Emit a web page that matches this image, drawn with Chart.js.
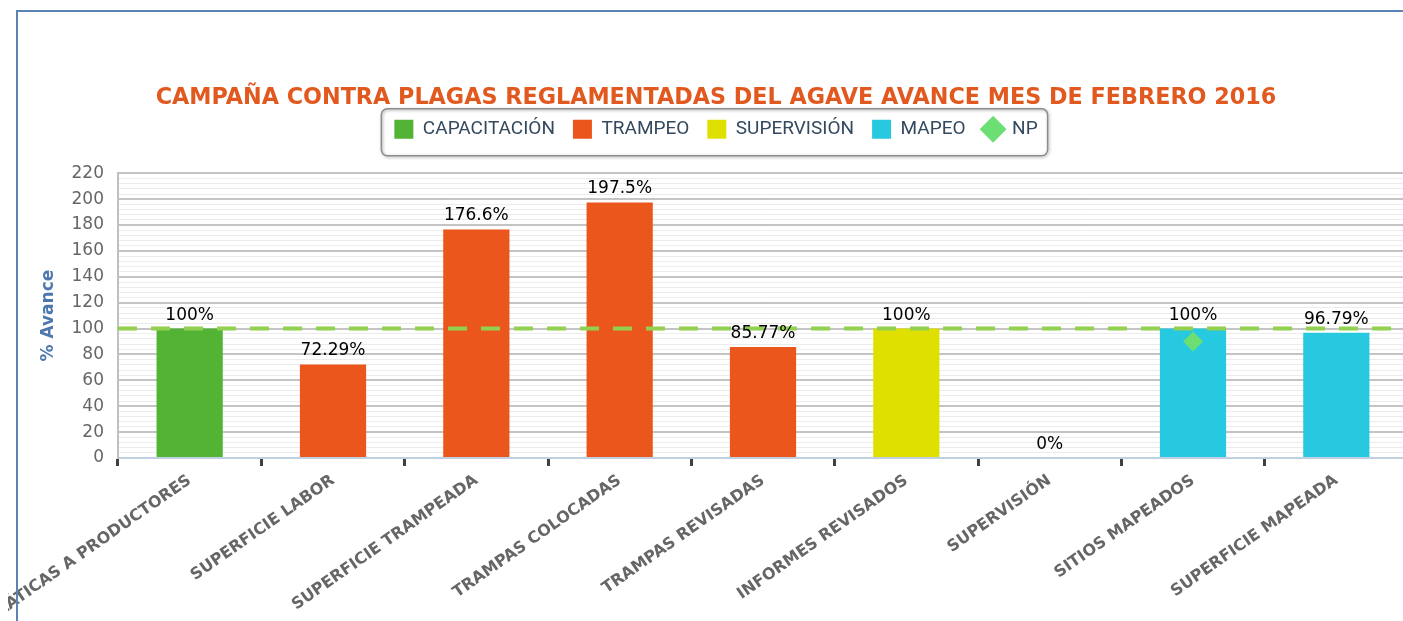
<!DOCTYPE html>
<html>
<head>
<meta charset="utf-8">
<title>Campaña contra plagas</title>
<script src="https://cdn.jsdelivr.net/npm/chart.js@4.4.1/dist/chart.umd.min.js"></script>
<style>
  html, body { margin: 0; padding: 0; background: #fff; overflow: hidden; }
  #wrap { position: relative; width: 1403px; height: 621px; overflow: hidden; }
  #chart01 { position: absolute; left: 8px; top: 0; }
  #frame { position: absolute; left: 16px; top: 10px; right: 0; bottom: 0;
           border-top: 2px solid #5a84b6; border-left: 2px solid #5a84b6; pointer-events: none; }
</style>
</head>
<body>
<div id="wrap">
  <canvas id="chart01" width="1410" height="621"></canvas>
  <div id="frame"></div>
</div>
<script>
// datos
const aCategorias = [
  "PLÁTICAS A PRODUCTORES", "SUPERFICIE LABOR", "SUPERFICIE TRAMPEADA",
  "TRAMPAS COLOCADAS", "TRAMPAS REVISADAS", "INFORMES REVISADOS",
  "SUPERVISIÓN", "SITIOS MAPEADOS", "SUPERFICIE MAPEADA"
];
const aCapacitacion = [100, null, null, null, null, null, null, null, null];
const aTrampeo      = [null, 72.29, 176.6, 197.5, 85.77, null, null, null, null];
const aSupervision  = [null, null, null, null, null, 100, 0, null, null];
const aMapeo        = [null, null, null, null, null, null, null, 100, 96.79];
const aNP           = [null, null, null, null, null, null, null, 90, null];
const nMeta = 100;
const nEjeMin = 0, nEjeMax = 220, nPasoMayor = 20, nPasoMenor = 4;

// linea punteada de meta (100%)
const oLineaMeta = {
  id: "lineaMeta",
  afterDatasetsDraw: function (chart) {
    const ctx = chart.ctx;
    const area = chart.chartArea;
    const y = chart.scales.y.getPixelForValue(nMeta);
    ctx.save();
    ctx.strokeStyle = "#92d050";
    ctx.lineWidth = 4;
    ctx.setLineDash([19, 14]);
    ctx.beginPath();
    ctx.moveTo(area.left, y);
    ctx.lineTo(area.right, y);
    ctx.stroke();
    ctx.restore();
  }
};

// etiquetas de valor sobre las barras
const oEtiquetas = {
  id: "etiquetas",
  afterDatasetsDraw: function (chart) {
    const ctx = chart.ctx;
    ctx.save();
    ctx.font = '17px "DejaVu Sans"';
    ctx.fillStyle = "#000";
    ctx.textAlign = "center";
    ctx.textBaseline = "alphabetic";
    chart.data.datasets.forEach(function (ds, i) {
      if (ds.type === "line") return;
      const meta = chart.getDatasetMeta(i);
      meta.data.forEach(function (bar, j) {
        const v = ds.data[j];
        if (v === null) return;
        ctx.fillText(v + "%", bar.x, bar.y - 9);
      });
    });
    ctx.restore();
  }
};

// marco redondeado de la leyenda
const oMarcoLeyenda = {
  id: "marcoLeyenda",
  afterDraw: function (chart) {
    const aHit = chart.legend.legendHitBoxes;
    if (!aHit || !aHit.length) return;
    const first = aHit[0], last = aHit[aHit.length - 1];
    const x0 = first.left - 13, x1 = last.left + last.width + 10;
    const y0 = first.top - 11, y1 = first.top + 36;
    const ctx = chart.ctx;
    ctx.save();
    ctx.shadowColor = "rgba(0,0,0,0.35)";
    ctx.shadowBlur = 3;
    ctx.shadowOffsetX = 1;
    ctx.shadowOffsetY = 1;
    ctx.strokeStyle = "#8c8c8c";
    ctx.lineWidth = 1.5;
    ctx.beginPath();
    ctx.roundRect(x0, y0, x1 - x0, y1 - y0, 6);
    ctx.stroke();
    ctx.restore();
  }
};

const ctx = document.getElementById("chart01");

const data = {
  labels: aCategorias,
  datasets: [
    { label: "CAPACITACIÓN", data: aCapacitacion, backgroundColor: "#52b334" },
    { label: "TRAMPEO", data: aTrampeo, backgroundColor: "#ea561c" },
    { label: "SUPERVISIÓN", data: aSupervision, backgroundColor: "#dfe000" },
    { label: "MAPEO", data: aMapeo, backgroundColor: "#27c9e1" },
    {
      type: "line", label: "NP", data: aNP, showLine: false, order: -1,
      pointStyle: "rectRot", pointRadius: 10, pointHoverRadius: 10,
      backgroundColor: "#6cdf74", borderColor: "#6cdf74", borderWidth: 0
    }
  ]
};

const options = {
  responsive: false,
  animation: false,
  layout: { padding: { left: 9, right: 3, top: 0, bottom: 0 } },
  datasets: { bar: { categoryPercentage: 1, barPercentage: 0.462 } },
  plugins: {
    title: {
      display: true,
      text: "CAMPAÑA CONTRA PLAGAS REGLAMENTADAS DEL AGAVE AVANCE MES DE FEBRERO 2016",
      color: "#e2591f",
      font: { family: "DejaVu Sans", weight: "bold", size: 22.3, lineHeight: 1 },
      padding: { top: 87, bottom: -7.5 }
    },
    subtitle: {
      display: true, text: "", weight: 500,
      font: { size: 1, lineHeight: 1 },
      padding: { top: 23.5, bottom: 0 }
    },
    legend: {
      display: true,
      position: "top",
      labels: {
        usePointStyle: true,
        boxWidth: 19,
        boxHeight: 19,
        padding: 18,
        color: "#34495e",
        font: { family: "Roboto", size: 19 },
        generateLabels: function (chart) {
          return chart.data.datasets.map(function (ds, i) {
            return {
              text: ds.label,
              fillStyle: ds.backgroundColor,
              strokeStyle: ds.backgroundColor,
              lineWidth: 0,
              pointStyle: ds.type === "line" ? "rectRot" : "rect",
              fontColor: "#34495e",
              hidden: false,
              datasetIndex: i
            };
          });
        }
      }
    },
    tooltip: { enabled: false }
  },
  scales: {
    x: {
      stacked: true,
      offset: true,
      grid: {
        display: true, offset: true, drawOnChartArea: false,
        drawTicks: true, tickLength: 8, tickWidth: 3, tickColor: "#404040"
      },
      border: { display: true, color: "#c0d0e0", width: 2 },
      ticks: {
        autoSkip: false, minRotation: 35, maxRotation: 35, padding: 5,
        color: "#666",
        font: { family: "DejaVu Sans", weight: "bold", size: 16 }
      },
      afterFit: function (oScale) {
        oScale.height = 163;
        oScale.paddingLeft = 0;
        oScale.paddingRight = 0;
      }
    },
    y: {
      min: nEjeMin,
      max: nEjeMax,
      ticks: {
        stepSize: nPasoMenor,
        maxTicksLimit: 100,
        autoSkip: false,
        padding: 14,
        color: "#666",
        font: { family: "DejaVu Sans", size: 17 },
        callback: function (v) { return v % nPasoMayor === 0 ? v : ""; }
      },
      grid: {
        drawTicks: false,
        color: function (c) { return c.tick && c.tick.value % nPasoMayor === 0 ? "#c4c4c4" : "#ececec"; },
        lineWidth: function (c) { return c.tick && c.tick.value % nPasoMayor === 0 ? 2 : 1; }
      },
      border: { display: true, color: "#c0c0c0", width: 2 },
      title: {
        display: true,
        text: "% Avance",
        color: "#4d78ae",
        font: { family: "DejaVu Sans", weight: "bold", size: 17 },
        padding: { top: 21, bottom: 0 }
      },
      afterFit: function (oScale) {
        oScale.width = 101;
      }
    }
  }
};

new Chart(ctx, {
  type: "bar",
  data: data,
  options: options,
  plugins: [oLineaMeta, oEtiquetas, oMarcoLeyenda]
});
</script>
</body>
</html>
